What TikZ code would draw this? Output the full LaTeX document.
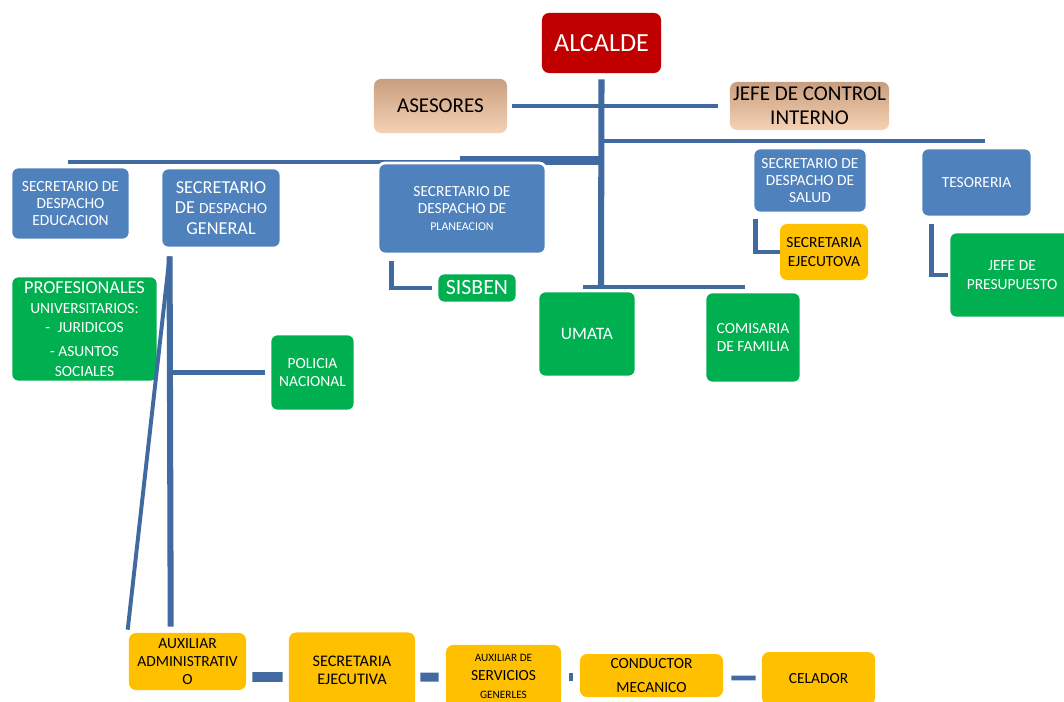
\documentclass[tikz,border=0pt]{standalone}
\usepackage{fontspec}
\setmainfont{Carlito}
\definecolor{alcred}{RGB}{192,0,0}
\definecolor{boxblue}{RGB}{79,129,189}
\definecolor{boxgreen}{RGB}{0,176,80}
\definecolor{boxyellow}{RGB}{255,192,0}
\definecolor{linkblue}{RGB}{64,106,160}
\definecolor{tanlight}{RGB}{246,210,180}
\definecolor{tandark}{RGB}{200,158,128}
\newcommand{\fs}[2]{\fontsize{#1}{#2}\selectfont}
\begin{document}
\begin{tikzpicture}[x=0.025cm, y=-0.025cm,
    box/.style={rectangle, rounded corners=5pt, align=center, inner sep=1pt},
    bluebox/.style={box, fill=boxblue, text=white, draw=white, line width=2pt},
    greenbox/.style={box, fill=boxgreen, text=white, draw=white, line width=2pt},
    yellowbox/.style={box, fill=boxyellow, text=black},
    tanbox/.style={box, top color=tandark, bottom color=tanlight, text=black},
    link/.style={draw=linkblue, line width=3.5pt}]
  \useasboundingbox (0,0) rectangle (1064,702);

  \coordinate (trunk s) at (601,287);
  \coordinate (lbar w) at (68,162);
  \coordinate (lbar e) at (601,162);
  \coordinate (tbar w) at (460,160.5);
  \coordinate (tbar e) at (601,160.5);
  \coordinate (rbar w) at (601,141);
  \coordinate (rbar e) at (985,141);
  \coordinate (bbar w) at (583,287);
  \coordinate (bbar e) at (745,287);
  \coordinate (gen p) at (171,372.5);

  \node[box, fill=alcred, text=white, font=\fs{18.6}{20}, minimum width=2.975cm, minimum height=1.5cm] (alcalde) at (601.5,43) {ALCALDE};
  \node[tanbox, font=\fs{15}{17}, minimum width=3.325cm, minimum height=1.35cm] (asesores) at (440.5,106) {ASESORES};
  \node[tanbox, font=\fs{15}{17}, minimum width=3.975cm, minimum height=1.2cm] (control) at (809.5,106) {JEFE DE CONTROL\\ INTERNO};

  \draw[link, line width=4.3pt] ([yshift=-0.15cm]alcalde.south) -- (trunk s);
  \draw[link] ([xshift=0.125cm]asesores.east) -- ([xshift=-0.3cm]control.west);
  \draw[link] (lbar w) -- (lbar e);
  \draw[link, line width=6.4pt] (tbar w) -- (tbar e);
  \draw[link, line width=3.5pt] (rbar w) -- (rbar e);
  \draw[link, line width=3pt] (bbar w) -- (bbar e);

  \node[bluebox, font=\fs{11}{12}, minimum width=2.975cm, minimum height=1.825cm] (educacion) at (70.5,203.5) {SECRETARIO DE\\ DESPACHO\\ EDUCACION};
  \node[bluebox, font=\fs{13}{14.6}, minimum width=3cm, minimum height=2cm] (general) at (221,208) {SECRETARIO\\ DE {\fs{11}{14.6}DESPACHO}\\ GENERAL};
  \node[bluebox, font=\fs{11}{12.4}, minimum width=4.2cm, minimum height=2.275cm] (planeacion) at (462,208.5) {SECRETARIO DE\\ DESPACHO DE\\ {\fs{8.5}{12.4}PLANEACION}};
  \node[bluebox, font=\fs{11}{12}, minimum width=2.85cm, minimum height=1.625cm] (salud) at (810,180.5) {SECRETARIO DE\\ DESPACHO DE\\ SALUD};
  \node[bluebox, font=\fs{11}{12}, minimum width=2.775cm, minimum height=1.725cm] (tesoreria) at (976.5,182.5) {TESORERIA};

  \node[yellowbox, font=\fs{11}{13}, minimum width=2.2cm, minimum height=1.4cm] (secsalud) at (824,252) {SECRETARIA\\ EJECUTOVA};
  \node[greenbox, font=\fs{11}{13}, minimum width=3.15cm, minimum height=2.15cm] (presupuesto) at (1012,275) {JEFE DE\\ PRESUPUESTO};
  \node[greenbox, font=\fs{11}{14}, minimum width=3.675cm, minimum height=2.65cm] (profesionales) at (84.5,329) {{\fs{13}{14}PROFESIONALES}\\ UNIVERSITARIOS:\\ -\enspace JURIDICOS\\[3pt] - ASUNTOS\\ SOCIALES};
  \node[greenbox, font=\fs{15.5}{16}, minimum width=2cm, minimum height=0.75cm] (sisben) at (477,288) {SISBEN};
  \node[greenbox, font=\fs{12.4}{14}, minimum width=2.45cm, minimum height=2.15cm] (umata) at (587,334) {UMATA};
  \node[greenbox, font=\fs{11}{13}, minimum width=2.4cm, minimum height=2.275cm] (comisaria) at (753,337.5) {COMISARIA\\ DE FAMILIA};
  \node[greenbox, font=\fs{11}{13}, minimum width=2.125cm, minimum height=1.925cm] (policia) at (312.5,372.5) {POLICIA\\ NACIONAL};

  \node[yellowbox, font=\fs{11}{13}, minimum width=2.925cm, minimum height=1.425cm] (auxadmin) at (187.5,661.5) {AUXILIAR\\ ADMINISTRATIV\\ O};
  \node[yellowbox, font=\fs{11.5}{13}, minimum width=3.15cm, minimum height=1.875cm] (secejec) at (352,670) {SECRETARIA\\ EJECUTIVA};
  \node[yellowbox, font=\fs{11}{13}, minimum width=2.875cm, minimum height=1.575cm] (auxserv) at (503.5,676.5) {{\fs{8}{13}AUXILIAR DE}\\ SERVICIOS\\ {\fs{8}{11}GENERLES}};
  \node[yellowbox, font=\fs{11}{17}, minimum width=3.575cm, minimum height=1.075cm] (conductor) at (651.5,675.5) {CONDUCTOR\\ MECANICO};
  \node[yellowbox, font=\fs{11}{13}, minimum width=2.825cm, minimum height=1.325cm] (celador) at (818.5,678.5) {CELADOR};

  \draw[link] ([shift={(15,6)}]planeacion.south west) |- ([xshift=-0.1cm]sisben.west);
  \draw[link] ([shift={(4,5)}]salud.south west) |- (secsalud.west);
  \draw[link] ([shift={(12,6)}]tesoreria.south west) |- (presupuesto.west);
  \draw[link, line width=4.3pt] ([shift={(10,7)}]general.south west) -- ([shift={(42,-6)}]auxadmin.north west);
  \draw[link, line width=2.8pt] ([shift={(10,7)}]general.south west) -- ([shift={(-1,-3)}]auxadmin.north west);
  \draw[link] (gen p) -- ([xshift=-0.1cm]policia.west);

  \draw[link, line width=7pt] ([shift={(6,15.5)}]auxadmin.east) -- ([shift={(-6,7)}]secejec.west);
  \draw[link, line width=6.4pt] ([shift={(5,7)}]secejec.east) -- ([shift={(-7,0.5)}]auxserv.west);
  \draw[link, line width=5pt] ([shift={(8,0.5)}]auxserv.east) -- ([shift={(-7,1.5)}]conductor.west);
  \draw[link] ([shift={(8,2.5)}]conductor.east) -- ([shift={(-6,-0.5)}]celador.west);
\end{tikzpicture}
\end{document}
